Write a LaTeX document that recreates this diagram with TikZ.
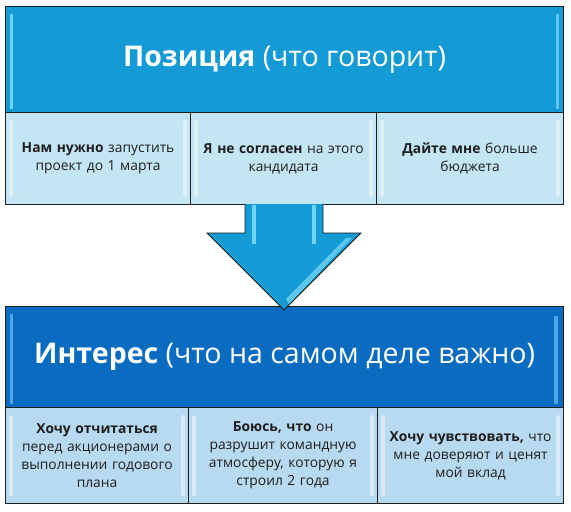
\documentclass[tikz,border=0pt]{standalone}
\usepackage{fontspec}
\setmainfont{Open Sans}
\definecolor{topblue}{HTML}{149AD4}
\definecolor{botblue}{HTML}{0A6CC0}
\definecolor{topcell}{HTML}{C4E5F4}
\definecolor{botcell}{HTML}{B8DAF0}
\definecolor{txtdark}{HTML}{1E1E1E}
\definecolor{hiA}{HTML}{6FD3F6}
\definecolor{hiB}{HTML}{4FA6E8}
\begin{document}
\begin{tikzpicture}[x=1pt,y=-1pt,
  frame/.style={draw=black!88, line width=1.1pt},
  titlebox/.style={frame, text=white, inner sep=0pt, anchor=north west,
    font=\fontsize{28.5}{34}\selectfont},
  cell/.style={frame, text=txtdark, inner sep=0pt, anchor=north west, align=center,
    font=\fontsize{13.8}{18}\selectfont},
  glint/.style={fill=white, fill opacity=0.45, rounded corners=1.5pt},
  arrowshape/.style={draw=black!88, line width=0.9pt, fill=topblue, line join=miter}
]
\useasboundingbox (0,0) rectangle (571,512);
% ---------- top block ----------
\node[titlebox, fill=topblue, minimum width=558pt, minimum height=106pt] (pos) at (5,6)
  {\textbf{Позиция} (что говорит)};
\node[cell, fill=topcell, minimum width=185pt, minimum height=92pt, text width=178pt] (p1) at (5,112)
  {\textbf{Нам нужно} запустить\\проект до 1 марта};
\node[cell, fill=topcell, minimum width=186pt, minimum height=92pt, text width=178pt] (p2) at (190,112)
  {\textbf{Я не согласен} на этого\\кандидата};
\node[cell, fill=topcell, minimum width=187pt, minimum height=92pt, text width=178pt] (p3) at (376,112)
  {\textbf{Дайте мне} больше\\бюджета};
% ---------- bottom block ----------
\node[titlebox, fill=botblue, minimum width=558pt, minimum height=101pt] (int) at (5,306)
  {\textbf{Интерес} (что на самом деле важно)};
\node[cell, fill=botcell, minimum width=183pt, minimum height=96pt, text width=178pt] (i1) at (5,407)
  {\textbf{Хочу отчитаться}\\перед акционерами о\\выполнении годового\\плана};
\node[cell, fill=botcell, minimum width=189pt, minimum height=96pt, text width=182pt] (i2) at (188,407)
  {\textbf{Боюсь, что} он\\разрушит командную\\атмосферу, которую я\\строил 2 года};
\node[cell, fill=botcell, minimum width=186pt, minimum height=96pt, text width=180pt] (i3) at (377,407)
  {\textbf{Хочу чувствовать,} что\\мне доверяют и ценят\\мой вклад};
% ---------- bevel highlights ----------
\fill[hiA] ([xshift=5pt,yshift=-8pt]pos.north west) rectangle ([xshift=8pt,yshift=4pt]pos.south west);
\fill[hiA, opacity=0.8] ([xshift=-8pt,yshift=-8pt]pos.north east) rectangle ([xshift=-5pt,yshift=4pt]pos.south east);
\fill[hiB] ([xshift=5pt,yshift=-8pt]int.north west) rectangle ([xshift=8pt,yshift=4pt]int.south west);
\fill[hiB] ([xshift=-10pt,yshift=-10pt]int.north east) rectangle ([xshift=-6pt,yshift=4pt]int.south east);
\foreach \c in {p1,p2,p3,i1,i2,i3}{
  \fill[glint] ([xshift=4pt,yshift=-8pt]\c.north west) rectangle ([xshift=8pt,yshift=8pt]\c.south west);
  \fill[glint] ([xshift=-8pt,yshift=-8pt]\c.north east) rectangle ([xshift=-4pt,yshift=8pt]\c.south east);
}
% ---------- arrow ----------
\coordinate (sL) at (245,204);
\coordinate (sR) at (323,204);
\coordinate (tip) at (284,310);
\path[arrowshape] (sL) -- (245,233) -- (207,233) -- (tip) -- (361,233) -- (323,233) -- (sR);
\fill[hiA] (252,205) rectangle (256,244);
\fill[hiA] (312,205) rectangle (316,244);
\fill[hiA, opacity=0.8] (346,238) -- (352,238) -- (289,304) -- (286,299) -- cycle;
\end{tikzpicture}
\end{document}
